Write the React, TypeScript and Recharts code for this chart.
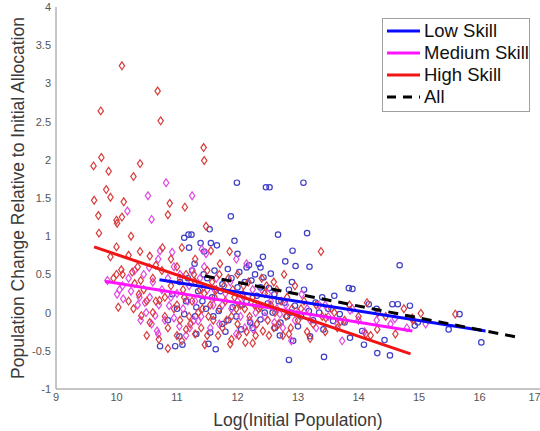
import React from 'react';
import { ScatterChart, Scatter, XAxis, YAxis, Legend } from 'recharts';

const xTicks = [9, 10, 11, 12, 13, 14, 15, 16, 17];
const yTicks = [-1, -0.5, 0, 0.5, 1, 1.5, 2, 2.5, 3, 3.5, 4];

const legendNames = ['Low Skill', 'Medium Skill', 'High Skill', 'All'];

const lowSkillPoints: [number, number][] = [
  [11.99, 1.7], [13.09, 1.7], [12.47, 1.64], [12.53, 1.64], [11.89, 1.26], [11.54, 1.09], [13.15, 1.04],
  [12.67, 1.02], [11.12, 0.98], [11.19, 1.02], [11.24, 1.02], [11.95, 0.94], [11.39, 0.91], [11.56, 0.91],
  [11.66, 0.88], [11.2, 0.85], [11.45, 0.8], [12.0, 0.77], [12.42, 0.73], [12.91, 0.81], [12.79, 0.67],
  [12.96, 0.61], [13.19, 0.6], [14.68, 0.62], [12.35, 0.64], [12.38, 0.59], [12.19, 0.62], [12.15, 0.59],
  [12.55, 0.51], [11.84, 0.57], [11.62, 0.55], [12.03, 0.53], [11.44, 0.5], [11.29, 0.64], [13.6, 0.22],
  [13.84, 0.32], [13.9, 0.31], [14.17, 0.11], [14.56, 0.11], [14.65, 0.11], [14.85, 0.09], [14.98, -0.13],
  [14.93, -0.17], [15.67, -0.02], [15.49, -0.22], [16.03, -0.39], [14.52, -0.56], [14.31, -0.53],
  [14.43, -0.36], [14.09, -0.42], [14.06, -0.24], [13.86, -0.33], [13.43, -0.58], [12.85, -0.62],
  [12.92, -0.37], [13.2, -0.31], [13.42, -0.22], [13.58, -0.11], [13.69, -0.02], [13.77, -0.13],
  [13.0, -0.18], [12.71, -0.13], [10.72, -0.44], [10.97, -0.44], [11.09, -0.42], [11.04, -0.31],
  [11.52, -0.41], [11.64, -0.48], [11.55, -0.26], [11.32, -0.28], [11.75, -0.15], [12.06, -0.22],
  [12.21, -0.13], [12.38, -0.09], [12.58, 0.0], [12.78, 0.13], [12.95, 0.09], [13.18, 0.02], [13.29, 0.13],
  [13.4, 0.2], [12.38, 0.33], [12.61, 0.24], [12.0, 0.33], [11.75, 0.37], [11.58, 0.2], [11.35, 0.28],
  [11.15, 0.15], [10.92, 0.24], [11.12, -0.02], [11.32, 0.07], [11.69, 0.02], [11.92, 0.07], [12.15, 0.15],
  [12.23, 0.42], [12.29, 0.5], [12.43, 0.46], [11.05, 0.4], [11.48, 0.05], [11.85, -0.1], [12.5, 0.12],
  [12.85, 0.3], [13.05, -0.05], [13.5, 0.05], [14.3, 0.05], [11.25, 0.55], [12.7, -0.3],
  [11.3, -0.05], [11.42, 0.15], [11.5, 0.45], [11.6, -0.05], [11.72, 0.28], [11.8, -0.25], [11.9, 0.45],
  [11.98, -0.05], [12.08, 0.1], [12.12, 0.4], [12.25, -0.2], [12.32, 0.22], [12.45, 0.0], [12.52, 0.32],
  [12.62, -0.2], [12.68, 0.15], [12.82, -0.05], [12.9, 0.4], [13.1, 0.3], [13.25, -0.1], [13.35, 0.0],
  [11.0, 0.05], [11.18, 0.45], [10.85, -0.1], [12.88, 0.0],
];

const mediumSkillPoints: [number, number][] = [
  [10.82, 1.7], [11.25, 1.53], [10.52, 1.53], [10.18, 1.33], [10.58, 1.22], [10.72, 0.81], [10.69, 0.7],
  [10.92, 0.79], [11.48, 0.77], [11.41, 0.83], [11.98, 0.7], [12.15, 0.64], [10.54, 0.59], [10.01, 0.24],
  [10.11, 0.18], [10.1, 0.35], [10.24, 0.28], [10.38, 0.2], [10.47, 0.13], [10.49, 0.0], [10.64, -0.04],
  [10.67, -0.24], [10.69, -0.28], [10.58, -0.15], [10.87, 0.09], [10.95, -0.07], [11.04, -0.18],
  [11.21, -0.2], [11.35, -0.11], [11.98, -0.28], [12.26, -0.22], [12.61, -0.13], [12.89, -0.37],
  [13.73, -0.37], [13.86, 0.03], [14.53, -0.15], [15.11, -0.15], [13.06, 0.24], [13.35, 0.1],
  [10.3, 0.55], [10.6, 0.4], [10.75, 0.3], [10.85, 0.45], [11.0, 0.25], [11.1, 0.05], [11.2, 0.35],
  [11.3, 0.15], [11.4, -0.05], [11.5, 0.3], [11.6, 0.1], [11.7, -0.15], [11.8, 0.25], [11.9, 0.05],
  [12.05, -0.05], [12.1, 0.2], [12.2, -0.1], [12.35, 0.1], [12.45, -0.05], [12.55, 0.15], [12.7, -0.02],
  [12.8, 0.1], [12.95, -0.1], [13.15, 0.05], [13.3, -0.2], [13.5, -0.05], [13.65, -0.15], [13.9, 0.05],
  [14.1, -0.25], [14.3, -0.1], [14.6, -0.08], [14.8, -0.2], [10.05, 0.3], [9.85, 0.42], [10.4, -0.1],
  [11.25, 0.55], [11.45, 0.6], [10.95, 0.6], [11.15, -0.3], [11.65, 0.45], [12.4, 0.3], [13.0, 0.0],
  [10.2, 0.45], [10.45, 0.5], [10.55, 0.2], [10.7, 0.1], [10.8, -0.1], [10.9, 0.2], [11.05, 0.5],
  [11.18, 0.15], [11.28, -0.1], [11.38, 0.45], [11.55, -0.2], [11.62, 0.3], [11.75, 0.1], [11.88, 0.4],
  [12.0, 0.15], [12.12, -0.2], [12.25, 0.3], [12.3, 0.0], [12.5, 0.25], [12.65, 0.05], [12.75, -0.2],
  [13.2, -0.1], [13.45, 0.1], [14.0, -0.1], [10.35, 0.1],
];

const highSkillPoints: [number, number][] = [
  [10.09, 3.23], [10.68, 2.9], [9.74, 2.64], [10.73, 2.51], [11.44, 2.16], [11.45, 1.99], [9.62, 1.92],
  [9.75, 2.03], [9.87, 1.85], [10.39, 1.95], [10.28, 1.78], [9.83, 1.61], [9.63, 1.47], [9.9, 1.51],
  [10.12, 1.45], [10.88, 1.43], [11.13, 1.38], [9.7, 1.27], [10.09, 1.25], [10.0, 1.21], [10.01, 1.17],
  [10.85, 1.28], [9.71, 1.04], [10.24, 1.0], [11.48, 1.13], [10.0, 0.86], [10.39, 0.8], [10.76, 0.85],
  [13.38, 0.8], [11.87, 0.8], [12.77, 0.5], [9.9, 0.73], [10.2, 0.75], [10.55, 0.74], [11.08, 0.85],
  [11.56, 0.81], [11.71, 0.64], [10.03, 0.07], [10.28, 0.05], [10.0, 0.5], [10.08, 0.56], [10.26, 0.53],
  [10.4, 0.42], [10.37, 0.24], [10.41, -0.04], [10.55, -0.13], [10.71, 0.16], [10.85, -0.47],
  [11.08, -0.37], [11.3, -0.28], [11.46, -0.42], [11.88, -0.41], [12.13, -0.39], [12.42, -0.24],
  [12.85, -0.28], [13.2, -0.34], [14.12, -0.28], [14.31, -0.22], [14.61, -0.28], [15.03, -0.01],
  [15.6, -0.02], [14.32, 0.0], [14.89, -0.07], [12.72, 0.15], [12.38, 0.07], [12.09, 0.24],
  [10.3, 0.38], [10.45, 0.3], [10.6, 0.45], [10.75, 0.55], [10.8, 0.2], [10.9, 0.35], [10.95, 0.05],
  [11.0, 0.6], [11.05, -0.1], [11.1, 0.3], [11.15, 0.5], [11.2, -0.05], [11.25, 0.15], [11.3, 0.4],
  [11.35, 0.0], [11.4, -0.2], [11.45, 0.25], [11.5, 0.55], [11.55, 0.1], [11.6, -0.1], [11.65, 0.3],
  [11.7, 0.05], [11.75, -0.2], [11.8, 0.15], [11.85, 0.45], [11.9, -0.05], [11.95, 0.2], [12.0, -0.15],
  [12.05, 0.1], [12.1, 0.35], [12.2, -0.05], [12.25, 0.2], [12.3, -0.3], [12.35, 0.05], [12.45, 0.25],
  [12.5, -0.1], [12.55, 0.1], [12.6, -0.2], [12.65, 0.3], [12.8, -0.05], [12.9, 0.05], [13.0, -0.1],
  [13.1, 0.15], [13.25, -0.15], [13.4, -0.05], [13.55, 0.05], [13.7, -0.12], [13.85, 0.1], [14.0, -0.05],
  [14.2, -0.3], [14.45, -0.05], [14.75, 0.05], [14.9, -0.1], [12.75, -0.3], [11.0, -0.3], [10.6, 0.0],
  [10.2, 0.15], [10.1, 0.5], [9.95, 0.45], [10.65, 0.15], [10.85, -0.2], [11.15, -0.22], [11.7, 0.5],
  [12.15, -0.25], [12.4, 0.45], [13.6, 0.0], [13.77, -0.1], [14.14, 0.13], [13.46, -0.07], [11.5, -0.3],
  [12.0, 0.5], [11.3, 0.7], [11.0, 0.1], [12.6, 0.4],
  [10.35, 0.6], [10.5, 0.15], [10.65, 0.62], [10.8, -0.05], [10.9, 0.7], [11.05, 0.45], [11.12, 0.2],
  [11.22, -0.15], [11.28, 0.5], [11.38, 0.3], [11.42, 0.05], [11.52, -0.05], [11.58, 0.4], [11.62, 0.2],
  [11.68, -0.3], [11.78, 0.35], [11.82, -0.1], [11.92, 0.3], [11.98, 0.05], [12.02, -0.3], [12.12, 0.05],
  [12.18, 0.4], [12.28, 0.1], [12.32, -0.15], [12.48, 0.35], [12.52, -0.3], [12.62, 0.0], [12.68, -0.15],
  [12.82, 0.2], [12.88, -0.2], [12.95, 0.35], [13.05, 0.05], [13.15, -0.25], [13.3, 0.1], [13.45, -0.25],
  [13.65, -0.2], [10.5, -0.3], [10.7, -0.35], [11.9, -0.35], [12.25, -0.4],
];

const lowSkillFit: [number, number][] = [[10.71, 0.43], [16.1, -0.24]];
const mediumSkillFit: [number, number][] = [[9.81, 0.41], [14.89, -0.24]];
const highSkillFit: [number, number][] = [[9.63, 0.86], [14.86, -0.54]];
const allFit: [number, number][] = [[11.46, 0.48], [16.68, -0.33]];

const toData = (pts: [number, number][]) => pts.map(([x, y]) => ({ x, y }));

const FONT = '"Liberation Sans", Arial, Helvetica, sans-serif';
const AXIS_COLOR = '#8c8c8c';
const TEXT_COLOR = '#3a3a3a';

const lineColors = ['#0a0aff', '#ff14ff', '#f01414', '#000000'];
const markerColors = { low: '#3f3fc8', medium: '#e04ae0', high: '#d83c3c' };

const Circle = (props: any) => {
  const { cx, cy, fill } = props;
  if (cx == null || cy == null) return <g />;
  return <circle cx={cx} cy={cy} r={2.7} fill="none" stroke={fill} strokeWidth={1.2} />;
};

const Diamond = (props: any) => {
  const { cx, cy, fill } = props;
  if (cx == null || cy == null) return <g />;
  const w = 2.7;
  const h = 3.9;
  return (
    <path
      d={`M${cx},${cy - h}L${cx + w},${cy}L${cx},${cy + h}L${cx - w},${cy}Z`}
      fill="none"
      stroke={fill}
      strokeWidth={1.2}
    />
  );
};

const NoShape = () => <g />;

const renderLegend = () => (
  <div
    style={{
      width: 146,
      height: 91,
      border: '1px solid #a0a0a0',
      background: '#fff',
      fontFamily: FONT,
      fontSize: 18.5,
      color: '#111',
      boxSizing: 'content-box',
      paddingTop: 1,
    }}
  >
    {legendNames.map((name, i) => (
      <div key={name} style={{ display: 'flex', alignItems: 'center', height: 22, lineHeight: '22px' }}>
        <svg width={41} height={22} style={{ display: 'block', flex: 'none' }}>
          <line
            x1={4}
            y1={11}
            x2={37}
            y2={11}
            stroke={lineColors[i]}
            strokeWidth={3}
            strokeDasharray={i === 3 ? '9 7' : undefined}
          />
        </svg>
        <span style={{ whiteSpace: 'nowrap' }}>{name}</span>
      </div>
    ))}
  </div>
);

const YLabel = (props: any) => {
  const vb = props.viewBox || {};
  const cx = 18;
  const cy = (vb.y ?? 0) + (vb.height ?? 0) / 2;
  return (
    <text
      x={cx}
      y={cy}
      transform={`rotate(-90 ${cx} ${cy})`}
      textAnchor="middle"
      dominantBaseline="central"
      fontFamily={FONT}
      fontSize={17.5}
      fill={TEXT_COLOR}
    >
      Population Change Relative to Initial Allocation
    </text>
  );
};

export default function App() {
  return (
    <div style={{ position: 'absolute', left: 0, top: 0, width: 540, height: 431, background: '#fff', overflow: 'hidden' }}>
      <ScatterChart width={540} height={431} margin={{ top: 7, right: 0, bottom: 0, left: 0 }}>
        <XAxis
          xAxisId="x"
          type="number"
          dataKey="x"
          domain={[9, 17]}
          ticks={xTicks}
          allowDataOverflow
          height={42}
          tickLine={false}
          tickSize={2}
          axisLine={{ stroke: AXIS_COLOR }}
          tickMargin={2}
          tick={{ fontSize: 11, fill: '#555', fontFamily: FONT }}
          label={{
            value: 'Log(Initial Population)',
            position: 'insideBottom',
            offset: 5,
            fontSize: 17.5,
            fill: TEXT_COLOR,
            fontFamily: FONT,
          }}
        />
        <XAxis
          xAxisId="xt"
          type="number"
          dataKey="x"
          domain={[9, 17]}
          ticks={xTicks}
          allowDataOverflow
          height={0}
          mirror
          tick={false}
          axisLine={false}
          tickLine={{ stroke: AXIS_COLOR }}
          tickSize={4}
        />
        <YAxis
          yAxisId="y"
          type="number"
          dataKey="y"
          domain={[-1, 4]}
          ticks={yTicks}
          allowDataOverflow
          width={56}
          tickLine={false}
          tickSize={2}
          axisLine={{ stroke: AXIS_COLOR }}
          tickMargin={3}
          tick={{ fontSize: 11, fill: '#555', fontFamily: FONT }}
          label={<YLabel />}
        />
        <YAxis
          yAxisId="yt"
          type="number"
          dataKey="y"
          domain={[-1, 4]}
          ticks={yTicks}
          allowDataOverflow
          width={0}
          mirror
          tick={false}
          axisLine={false}
          tickLine={{ stroke: AXIS_COLOR }}
          tickSize={4}
        />
        <Legend
          layout="vertical"
          align="center"
          verticalAlign="middle"
          content={renderLegend}
          wrapperStyle={{ position: 'absolute', left: 382, top: 18, width: 148, height: 94 }}
        />
        <Scatter xAxisId="x" yAxisId="y" name="Low Skill pts" data={toData(lowSkillPoints)} fill={markerColors.low} shape={Circle} isAnimationActive={false} legendType="none" />
        <Scatter xAxisId="x" yAxisId="y" name="Medium Skill pts" data={toData(mediumSkillPoints)} fill={markerColors.medium} shape={Diamond} isAnimationActive={false} legendType="none" />
        <Scatter xAxisId="x" yAxisId="y" name="High Skill pts" data={toData(highSkillPoints)} fill={markerColors.high} shape={Diamond} isAnimationActive={false} legendType="none" />
        <Scatter xAxisId="x" yAxisId="y" name="Low Skill" data={toData(lowSkillFit)} fill={lineColors[0]} shape={NoShape} line={{ stroke: lineColors[0], strokeWidth: 3 }} isAnimationActive={false} />
        <Scatter xAxisId="x" yAxisId="y" name="Medium Skill" data={toData(mediumSkillFit)} fill={lineColors[1]} shape={NoShape} line={{ stroke: lineColors[1], strokeWidth: 3 }} isAnimationActive={false} />
        <Scatter xAxisId="x" yAxisId="y" name="High Skill" data={toData(highSkillFit)} fill={lineColors[2]} shape={NoShape} line={{ stroke: lineColors[2], strokeWidth: 3 }} isAnimationActive={false} />
        <Scatter xAxisId="x" yAxisId="y" name="All" data={toData(allFit)} fill={lineColors[3]} shape={NoShape} line={{ stroke: lineColors[3], strokeWidth: 3, strokeDasharray: '10 7' }} isAnimationActive={false} />
      </ScatterChart>
    </div>
  );
}
